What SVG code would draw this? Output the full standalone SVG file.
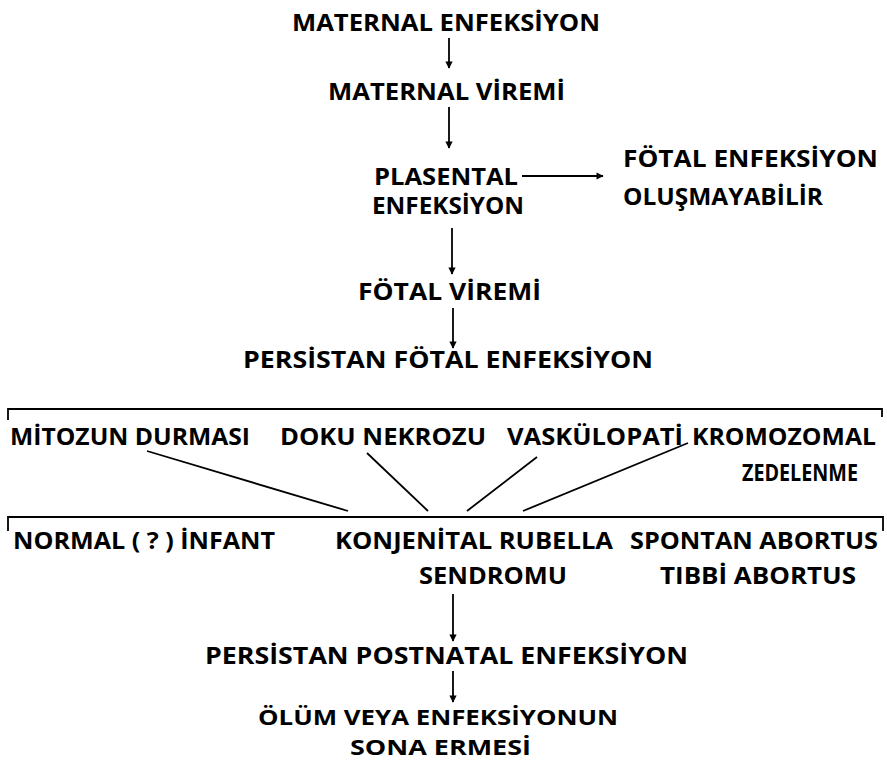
<svg xmlns="http://www.w3.org/2000/svg" width="887" height="763" viewBox="0 0 887 763">
<style>
text{font-family:"Open Sans","DejaVu Sans",sans-serif;font-weight:700;font-size:23px;fill:#000}
.sm{font-size:21px}
.ln{stroke:#000;stroke-width:1.8;fill:none}
.ar{stroke:#000;stroke-width:1.8;fill:none;marker-end:url(#ah)}
</style>
<defs>
<marker id="ah" viewBox="0 0 10 10" refX="9" refY="5" markerWidth="5" markerHeight="4" orient="auto" markerUnits="strokeWidth">
<path d="M0,0 L10,5 L0,10 z" fill="#000"/>
</marker>
</defs>
<g id="connectors">
<line class="ar" x1="449" y1="38" x2="449" y2="68"/>
<line class="ar" x1="449" y1="107" x2="449" y2="148"/>
<line class="ar" x1="522" y1="176" x2="603" y2="176"/>
<line class="ar" x1="452" y1="228" x2="452" y2="274"/>
<line class="ar" x1="453" y1="308" x2="453" y2="348"/>
<path class="ln" d="M8,420 V409 H882 V417"/>
<line class="ln" x1="147" y1="451" x2="348" y2="511"/>
<line class="ln" x1="367" y1="453" x2="428" y2="511"/>
<line class="ln" x1="537" y1="457" x2="467" y2="511"/>
<line class="ln" x1="688" y1="443" x2="523" y2="511"/>
<path class="ln" d="M8,531 V517 H883 V531"/>
<line class="ar" x1="453" y1="594" x2="453" y2="641"/>
<line class="ar" x1="453" y1="671" x2="453" y2="702"/>
</g>
<g id="n1"><text x="292" y="31" textLength="308" lengthAdjust="spacingAndGlyphs">MATERNAL ENFEKSİYON</text></g>
<g id="n2"><text x="328" y="100" textLength="237" lengthAdjust="spacingAndGlyphs">MATERNAL VİREMİ</text></g>
<g id="n3"><text x="374" y="185" textLength="144" lengthAdjust="spacingAndGlyphs">PLASENTAL</text><text x="372" y="214" textLength="152" lengthAdjust="spacingAndGlyphs">ENFEKSİYON</text></g>
<g id="n4"><text x="623" y="167" textLength="255" lengthAdjust="spacingAndGlyphs">FÖTAL ENFEKSİYON</text><text x="623" y="205" textLength="200" lengthAdjust="spacingAndGlyphs">OLUŞMAYABİLİR</text></g>
<g id="n5"><text x="358" y="300" textLength="183" lengthAdjust="spacingAndGlyphs">FÖTAL VİREMİ</text></g>
<g id="n6"><text x="243" y="368" textLength="410" lengthAdjust="spacingAndGlyphs">PERSİSTAN FÖTAL ENFEKSİYON</text></g>
<g id="n7"><text x="10" y="445" textLength="240" lengthAdjust="spacingAndGlyphs">MİTOZUN DURMASI</text></g>
<g id="n8"><text x="280" y="445" textLength="206" lengthAdjust="spacingAndGlyphs">DOKU NEKROZU</text></g>
<g id="n9"><text x="507" y="445" textLength="176" lengthAdjust="spacingAndGlyphs">VASKÜLOPATİ</text></g>
<g id="n10"><text x="692" y="445" textLength="184" lengthAdjust="spacingAndGlyphs">KROMOZOMAL</text><text x="742" y="481" textLength="116" lengthAdjust="spacingAndGlyphs">ZEDELENME</text></g>
<g id="n11"><text x="13" y="549" textLength="262" lengthAdjust="spacingAndGlyphs">NORMAL ( ? ) İNFANT</text></g>
<g id="n12"><text x="335" y="549" textLength="278" lengthAdjust="spacingAndGlyphs">KONJENİTAL RUBELLA</text><text x="419" y="584" textLength="148" lengthAdjust="spacingAndGlyphs">SENDROMU</text></g>
<g id="n13"><text x="630" y="549" textLength="248" lengthAdjust="spacingAndGlyphs">SPONTAN ABORTUS</text><text x="660" y="584" textLength="196" lengthAdjust="spacingAndGlyphs">TIBBİ ABORTUS</text></g>
<g id="n14"><text x="205" y="664" textLength="483" lengthAdjust="spacingAndGlyphs">PERSİSTAN POSTNATAL ENFEKSİYON</text></g>
<g id="n15"><text class="sm" x="258" y="725" textLength="360" lengthAdjust="spacingAndGlyphs">ÖLÜM VEYA ENFEKSİYONUN</text><text class="sm" x="350" y="755" textLength="181" lengthAdjust="spacingAndGlyphs">SONA ERMESİ</text></g>
</svg>
